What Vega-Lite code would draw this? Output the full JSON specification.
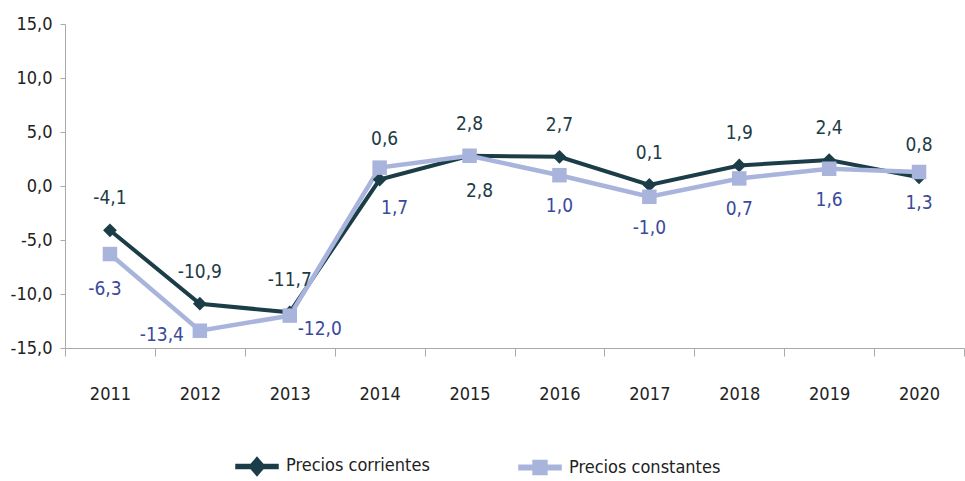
{
  "$schema": "https://vega.github.io/schema/vega-lite/v6.json",
  "width": 899,
  "height": 324,
  "padding": {"left": 10, "top": 15, "right": 0, "bottom": 0},
  "background": "white",
  "config": {
    "view": {"stroke": null},
    "font": "DejaVu Sans Condensed",
    "locale": {"number": {"decimal": ",", "thousands": ".", "grouping": [3], "currency": ["", " €"], "minus": "-"}}
  },
  "data": {
    "values": [
      {"year": "2011", "serie": "Precios corrientes", "value": -4.1},
      {"year": "2012", "serie": "Precios corrientes", "value": -10.9},
      {"year": "2013", "serie": "Precios corrientes", "value": -11.7},
      {"year": "2014", "serie": "Precios corrientes", "value": 0.6},
      {"year": "2015", "serie": "Precios corrientes", "value": 2.8},
      {"year": "2016", "serie": "Precios corrientes", "value": 2.7},
      {"year": "2017", "serie": "Precios corrientes", "value": 0.1},
      {"year": "2018", "serie": "Precios corrientes", "value": 1.9},
      {"year": "2019", "serie": "Precios corrientes", "value": 2.4},
      {"year": "2020", "serie": "Precios corrientes", "value": 0.8},
      {"year": "2011", "serie": "Precios constantes", "value": -6.3},
      {"year": "2012", "serie": "Precios constantes", "value": -13.4},
      {"year": "2013", "serie": "Precios constantes", "value": -12.0},
      {"year": "2014", "serie": "Precios constantes", "value": 1.7},
      {"year": "2015", "serie": "Precios constantes", "value": 2.8},
      {"year": "2016", "serie": "Precios constantes", "value": 1.0},
      {"year": "2017", "serie": "Precios constantes", "value": -1.0},
      {"year": "2018", "serie": "Precios constantes", "value": 0.7},
      {"year": "2019", "serie": "Precios constantes", "value": 1.6},
      {"year": "2020", "serie": "Precios constantes", "value": 1.3}
    ]
  },
  "encoding": {
    "x": {
      "field": "year", "type": "ordinal",
      "scale": {"type": "band", "paddingInner": 0, "paddingOuter": 0},
      "axis": {
        "title": null, "labelAngle": 0, "tickBand": "extent",
        "domainColor": "#aaaaaa", "tickColor": "#aaaaaa", "tickSize": 8,
        "labelPadding": 29, "labelFontSize": 18, "labelColor": "#222222"
      }
    },
    "y": {
      "field": "value", "type": "quantitative",
      "scale": {"domain": [-15, 15], "nice": false, "zero": false},
      "axis": {
        "title": null, "values": [-15, -10, -5, 0, 5, 10, 15], "format": ".1f",
        "grid": false, "domainColor": "#aaaaaa", "tickColor": "#aaaaaa", "tickSize": 5,
        "labelPadding": 8, "labelFontSize": 18, "labelColor": "#222222"
      }
    }
  },
  "layer": [
    {
      "transform": [{"filter": "datum.serie === 'Precios corrientes'"}],
      "mark": {"type": "line", "strokeWidth": 4},
      "encoding": {
        "color": {"field": "serie", "type": "nominal",
          "scale": {"domain": ["Precios corrientes", "Precios constantes"], "range": ["#1b3d47", "#a9b4dc"]},
          "legend": {
            "title": null, "orient": "none", "direction": "horizontal",
            "legendX": 170, "legendY": 420,
            "columnPadding": 86, "symbolSize": 1764, "labelFontSize": 18,
            "labelColor": "#222222", "labelOffset": 7,
            "encode": {
              "symbols": {
                "update": {
                  "shape": {"signal": "datum.value === 'Precios corrientes' ? 'M-1,-0.1H-0.29L0,-0.43L0.29,-0.1H1V0.1H0.29L0,0.43L-0.29,0.1H-1Z' : 'M-1,-0.11H-0.33V-0.33H0.33V-0.11H1V0.11H0.33V0.33H-0.33V0.11H-1Z'"},
                  "fill": {"signal": "datum.value === 'Precios corrientes' ? '#1b3d47' : '#a9b4dc'"},
                  "stroke": {"value": "transparent"},
                  "opacity": {"value": 1}
                }
              }
            }
          }
        }
      }
    },
    {
      "transform": [{"filter": "datum.serie === 'Precios constantes'"}],
      "mark": {"type": "line", "strokeWidth": 4.5},
      "encoding": {
        "color": {"field": "serie", "type": "nominal"}
      }
    },
    {
      "transform": [{"filter": "datum.serie === 'Precios corrientes'"}],
      "mark": {"type": "point", "shape": "diamond", "filled": true, "size": 190, "opacity": 1},
      "encoding": {
        "color": {"field": "serie", "type": "nominal"}
      }
    },
    {
      "transform": [{"filter": "datum.serie === 'Precios constantes'"}],
      "mark": {"type": "point", "shape": "square", "filled": true, "size": 210, "opacity": 1},
      "encoding": {
        "color": {"field": "serie", "type": "nominal"}
      }
    },
    {
      "transform": [{"filter": "datum.serie === 'Precios corrientes' && datum.year !== '2014'"}],
      "mark": {"type": "text", "dy": -32, "fontSize": 19, "color": "#1e3c45"},
      "encoding": {"text": {"field": "value", "type": "quantitative", "format": ".1f"}}
    },
    {
      "transform": [{"filter": "datum.serie === 'Precios corrientes' && datum.year === '2014'"}],
      "mark": {"type": "text", "dx": 5, "dy": -41, "fontSize": 19, "color": "#1e3c45"},
      "encoding": {"text": {"field": "value", "type": "quantitative", "format": ".1f"}}
    },
    {
      "transform": [{"filter": "datum.serie === 'Precios constantes' && datum.year >= '2016'"}],
      "mark": {"type": "text", "dy": 31, "fontSize": 19, "color": "#3a4a9c"},
      "encoding": {"text": {"field": "value", "type": "quantitative", "format": ".1f"}}
    },
    {
      "transform": [{"filter": "datum.serie === 'Precios constantes' && datum.year === '2015'"}],
      "mark": {"type": "text", "dx": 10, "dy": 35, "fontSize": 19, "color": "#1e3c45"},
      "encoding": {"text": {"field": "value", "type": "quantitative", "format": ".1f"}}
    },
    {
      "transform": [{"filter": "datum.serie === 'Precios constantes' && datum.year === '2011'"}],
      "mark": {"type": "text", "dx": -5, "dy": 35, "fontSize": 19, "color": "#3a4a9c"},
      "encoding": {"text": {"field": "value", "type": "quantitative", "format": ".1f"}}
    },
    {
      "transform": [{"filter": "datum.serie === 'Precios constantes' && datum.year === '2012'"}],
      "mark": {"type": "text", "dx": -38, "dy": 4, "fontSize": 19, "color": "#3a4a9c"},
      "encoding": {"text": {"field": "value", "type": "quantitative", "format": ".1f"}}
    },
    {
      "transform": [{"filter": "datum.serie === 'Precios constantes' && datum.year === '2013'"}],
      "mark": {"type": "text", "dx": 30, "dy": 13, "fontSize": 19, "color": "#3a4a9c"},
      "encoding": {"text": {"field": "value", "type": "quantitative", "format": ".1f"}}
    },
    {
      "transform": [{"filter": "datum.serie === 'Precios constantes' && datum.year === '2014'"}],
      "mark": {"type": "text", "dx": 15, "dy": 40, "fontSize": 19, "color": "#3a4a9c"},
      "encoding": {"text": {"field": "value", "type": "quantitative", "format": ".1f"}}
    }
  ]
}
